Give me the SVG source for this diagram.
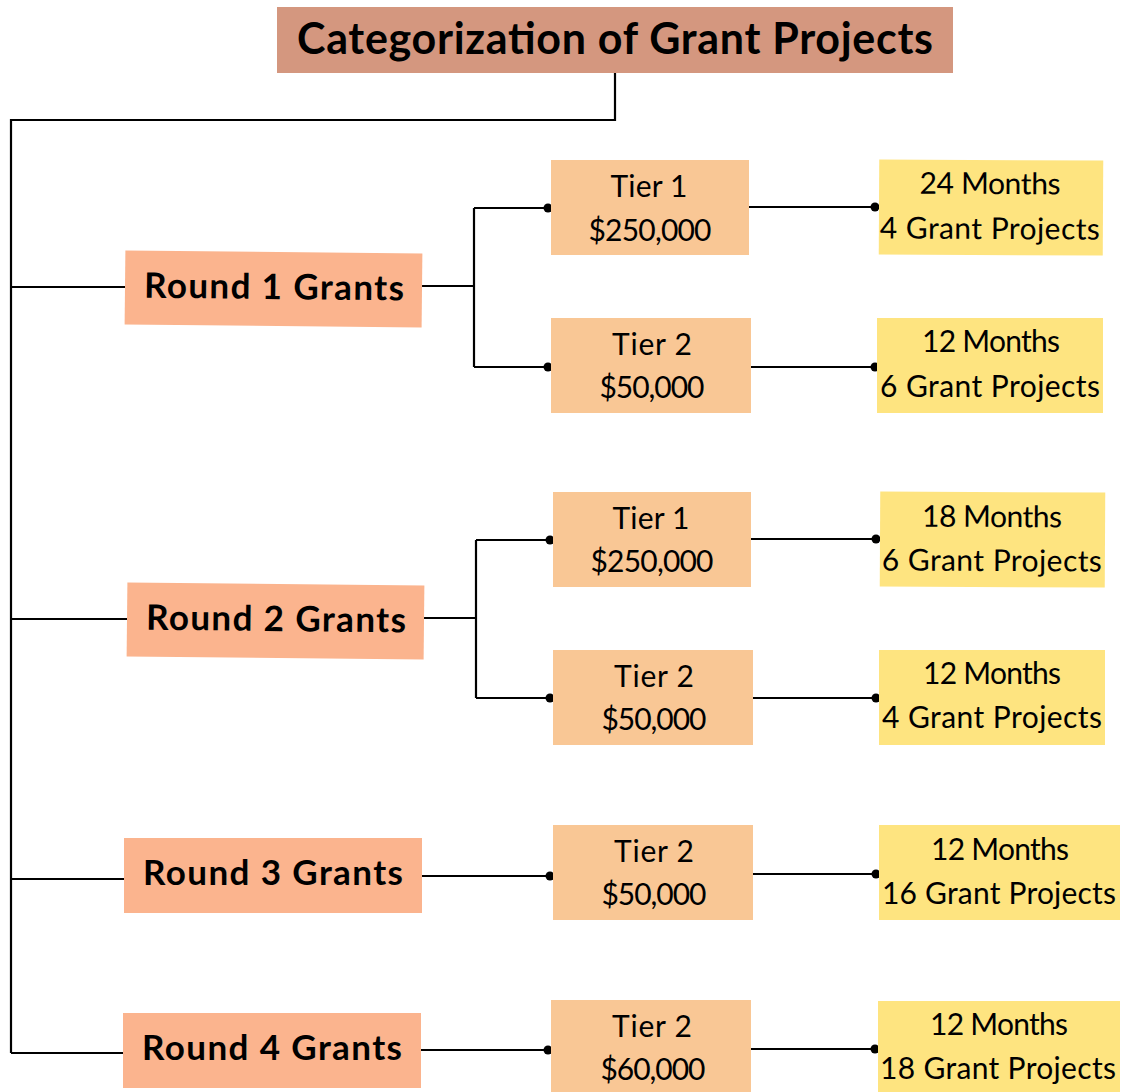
<svg xmlns="http://www.w3.org/2000/svg" width="1121" height="1092" viewBox="0 0 1121 1092">
<style>
.title{fill:#D4977F}
.round{fill:#FBB48E}
.tier{fill:#F9C795}
.info{fill:#FEE480}
.tb{font-family:"Lato","Liberation Sans",sans-serif;font-weight:bold;fill:#000;text-anchor:middle}
.tr{font-family:"Lato","Liberation Sans",sans-serif;font-size:30px;fill:#000;text-anchor:middle}
.ln{fill:none;stroke:#000;stroke-width:2.2}
.dot{fill:#000}
</style>
<rect width="1121" height="1092" fill="#fff"/>
<g id="connectors">
<path class="ln" d="M615,73 V120 H11 V1053"/>
<path class="ln" d="M11,287 H125 M11,619 H127 M11,879 H124 M11,1053 H123"/>
<path class="ln" d="M422,286 H474 M474,208 V367 M474,208 H548 M474,367 H548"/>
<path class="ln" d="M423,618 H476 M476,540 V698 M476,540 H550 M476,698 H550"/>
<path class="ln" d="M421,876 H550 M420,1050 H548"/>
<path class="ln" d="M749,207 H875 M751,367 H875 M751,539 H876 M753,698 H876 M753,874 H876 M751,1049 H875"/>
<circle class="dot" cx="548" cy="208" r="4.5"/><circle class="dot" cx="548" cy="367" r="4.5"/>
<circle class="dot" cx="550" cy="540" r="4.5"/><circle class="dot" cx="550" cy="698" r="4.5"/>
<circle class="dot" cx="550" cy="876" r="4.5"/><circle class="dot" cx="548" cy="1050" r="4.5"/>
<circle class="dot" cx="875" cy="207" r="4.5"/><circle class="dot" cx="875" cy="367" r="4.5"/>
<circle class="dot" cx="876" cy="539" r="4.5"/><circle class="dot" cx="876" cy="698" r="4.5"/>
<circle class="dot" cx="876" cy="874" r="4.5"/><circle class="dot" cx="875" cy="1049" r="4.5"/>
</g>
<g id="title"><rect class="title" x="277" y="7" width="676" height="66"/><text class="tb" x="615" y="54" font-size="43" textLength="636" lengthAdjust="spacing">Categorization of Grant Projects</text></g>
<g id="round1" transform="rotate(0.6 273 289)"><rect class="round" x="125" y="252" width="297" height="74"/><text class="tb" x="274" y="299" font-size="35" textLength="260" lengthAdjust="spacing">Round 1 Grants</text></g>
<g id="round2" transform="rotate(0.6 275 621)"><rect class="round" x="127" y="584" width="297" height="74"/><text class="tb" x="276" y="631" font-size="35" textLength="260" lengthAdjust="spacing">Round 2 Grants</text></g>
<g id="round3"><rect class="round" x="124" y="838" width="298" height="75"/><text class="tb" x="273" y="885" font-size="35" textLength="260" lengthAdjust="spacing">Round 3 Grants</text></g>
<g id="round4"><rect class="round" x="123" y="1013" width="298" height="75"/><text class="tb" x="272" y="1060" font-size="35" textLength="260" lengthAdjust="spacing">Round 4 Grants</text></g>
<g id="r1t1"><rect class="tier" x="551" y="160" width="198" height="95"/><text class="tr" x="649" y="197" textLength="77" lengthAdjust="spacing">Tier 1</text><text class="tr" x="650" y="241" textLength="123" lengthAdjust="spacing">$250,000</text></g>
<g id="r1t2"><rect class="tier" x="551" y="318" width="200" height="95"/><text class="tr" x="652" y="355" textLength="80" lengthAdjust="spacing">Tier 2</text><text class="tr" x="652" y="398" textLength="105" lengthAdjust="spacing">$50,000</text></g>
<g id="r2t1"><rect class="tier" x="553" y="492" width="198" height="95"/><text class="tr" x="651" y="529" textLength="77" lengthAdjust="spacing">Tier 1</text><text class="tr" x="652" y="572" textLength="123" lengthAdjust="spacing">$250,000</text></g>
<g id="r2t2"><rect class="tier" x="553" y="650" width="200" height="95"/><text class="tr" x="654" y="687" textLength="80" lengthAdjust="spacing">Tier 2</text><text class="tr" x="654" y="730" textLength="105" lengthAdjust="spacing">$50,000</text></g>
<g id="r3t2"><rect class="tier" x="553" y="825" width="200" height="95"/><text class="tr" x="654" y="862" textLength="80" lengthAdjust="spacing">Tier 2</text><text class="tr" x="654" y="905" textLength="105" lengthAdjust="spacing">$50,000</text></g>
<g id="r4t2"><rect class="tier" x="551" y="1000" width="200" height="92"/><text class="tr" x="652" y="1037" textLength="80" lengthAdjust="spacing">Tier 2</text><text class="tr" x="653" y="1080" textLength="105" lengthAdjust="spacing">$60,000</text></g>
<g id="r1t1info" transform="rotate(0.3 991 208)"><rect class="info" x="879" y="160" width="224" height="95"/><text class="tr" x="990" y="194" textLength="141" lengthAdjust="spacing">24 Months</text><text class="tr" x="990" y="239" textLength="220" lengthAdjust="spacing">4 Grant Projects</text></g>
<g id="r1t2info"><rect class="info" x="877" y="318" width="226" height="95"/><text class="tr" x="991" y="352" textLength="138" lengthAdjust="spacing">12 Months</text><text class="tr" x="990" y="397" textLength="220" lengthAdjust="spacing">6 Grant Projects</text></g>
<g id="r2t1info" transform="rotate(0.3 992 540)"><rect class="info" x="880" y="492" width="225" height="95"/><text class="tr" x="992" y="527" textLength="140" lengthAdjust="spacing">18 Months</text><text class="tr" x="992" y="571" textLength="220" lengthAdjust="spacing">6 Grant Projects</text></g>
<g id="r2t2info"><rect class="info" x="879" y="650" width="226" height="95"/><text class="tr" x="992" y="684" textLength="138" lengthAdjust="spacing">12 Months</text><text class="tr" x="992" y="728" textLength="220" lengthAdjust="spacing">4 Grant Projects</text></g>
<g id="r3t2info"><rect class="info" x="879" y="825" width="241" height="95"/><text class="tr" x="1000" y="860" textLength="138" lengthAdjust="spacing">12 Months</text><text class="tr" x="999" y="904" textLength="234" lengthAdjust="spacing">16 Grant Projects</text></g>
<g id="r4t2info"><rect class="info" x="878" y="1001" width="242" height="91"/><text class="tr" x="999" y="1035" textLength="138" lengthAdjust="spacing">12 Months</text><text class="tr" x="998" y="1079" textLength="236" lengthAdjust="spacing">18 Grant Projects</text></g>
</svg>
